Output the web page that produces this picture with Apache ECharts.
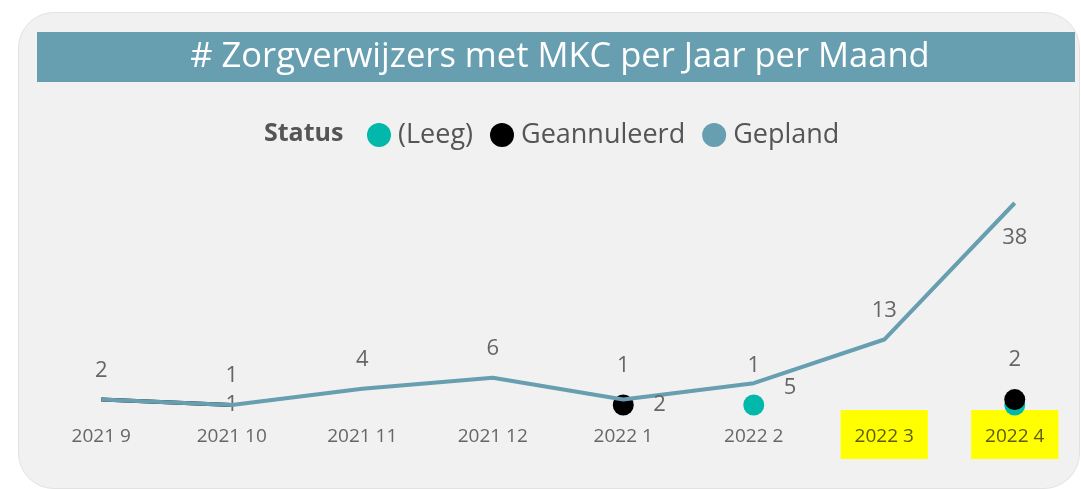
<!DOCTYPE html>
<html>
<head>
<meta charset="utf-8">
<script src="https://cdn.jsdelivr.net/npm/echarts@6/dist/echarts.min.js"></script>
<style>
  html, body { margin: 0; padding: 0; background: #ffffff; }
  #card {
    position: absolute; left: 18px; top: 12px; width: 1060px; height: 475px;
    background: #f1f1f1; border: 1px solid #e2e2e2; border-radius: 36px;
  }
  #chart { position: absolute; left: 0; top: 0; width: 1081px; height: 489px; }
</style>
</head>
<body>
<div id="card"></div>
<div id="chart"></div>
<script>
  var months = ['2021 9', '2021 10', '2021 11', '2021 12', '2022 1', '2022 2', '2022 3', '2022 4'];
  var leeg = [null, null, null, null, null, 1, null, 1];
  var geannuleerd = [2, 1, null, null, 1, null, null, 2];
  var gepland = [2, 1, 4, 6, 2, 5, 13, 38];
  var highlighted = ['2022 3', '2022 4'];

  var dom = document.getElementById("chart");
  var myChart = echarts.init(dom);

  // labels placed like power bi did (some hidden because they overlap)
  var labelPos = {
      leeg: ['top', 'top', 'top', 'top', 'top', 'top', 'top', 'none'],
      geannuleerd: ['none', 'inside', 'top', 'top', 'top', 'top', 'top', 'top'],
      gepland: ['top', 'top', 'top', 'top', 'right', 'right', 'top', 'bottom']
  };

  function isolated(arr, i) {
      return arr[i] != null && arr[i - 1] == null && arr[i + 1] == null;
  }

  function buildData(arr, pos) {
      return arr.map(function (v, i) {
          var p = pos[i];
          return {
              value: v,
              symbolSize: isolated(arr, i) ? 21 : 0,
              label: {
                  show: p !== 'none',
                  position: p === 'none' ? 'top' : p,
                  distance: p === 'right' ? 30 : (p === 'bottom' ? 24 : 18),
                  offset: p === 'right' ? [0, 5] : [0, 0]
              }
          };
      });
  }

  var labelStyle = {
      color: '#666666',
      fontSize: 22,
      fontFamily: 'Open Sans'
  };

  option = {
      animation: false,
      textStyle: { fontFamily: 'Open Sans' },
      graphic: [
          {
              type: 'rect',
              shape: { x: 37, y: 32, width: 1038, height: 50 },
              style: { fill: '#679fb0' },
              z: 0
          },
          {
              type: 'text',
              x: 560,
              y: 57,
              style: {
                  text: '# Zorgverwijzers met MKC per Jaar per Maand',
                  fill: '#ffffff',
                  font: '34.5px "Open Sans"',
                  align: 'center',
                  verticalAlign: 'middle'
              }
          },
          {
              type: 'text',
              x: 264,
              y: 134,
              style: {
                  text: 'Status',
                  fill: '#555555',
                  font: 'bold 25px "Open Sans"',
                  verticalAlign: 'middle'
              }
          }
      ],
      legend: {
          left: 367,
          top: 120,
          padding: 0,
          icon: 'circle',
          itemWidth: 24,
          itemHeight: 24,
          itemGap: 17,
          textStyle: { color: '#555555', fontSize: 27, lineHeight: 30, padding: [0, 0, 0, 2] },
          data: ['(Leeg)', 'Geannuleerd', 'Gepland']
      },
      grid: {
          left: 36,
          right: 1,
          top: 203,
          bottom: 78.5
      },
      xAxis: {
          type: 'category',
          data: months,
          boundaryGap: true,
          axisLine: { show: false },
          axisTick: { show: false },
          axisLabel: {
              margin: 14,
              formatter: function (v) {
                  return highlighted.indexOf(v) >= 0 ? '{hl|' + v + '}' : '{n|' + v + '}';
              },
              rich: {
                  n: {
                      color: '#666666',
                      fontSize: 19,
                      lineHeight: 20,
                      padding: [17, 12, 13, 12]
                  },
                  hl: {
                      backgroundColor: '#ffff00',
                      color: '#5c5c10',
                      fontSize: 19,
                      lineHeight: 20,
                      padding: [17, 14, 13, 14]
                  }
              }
          }
      },
      yAxis: {
          type: 'value',
          min: 0,
          max: 38,
          show: false
      },
      series: [
          {
              name: 'Gepland',
              type: 'line',
              z: 3,
              color: '#679fb0',
              symbol: 'circle',
              lineStyle: { width: 4, color: '#679fb0' },
              label: labelStyle,
              data: buildData(gepland, labelPos.gepland)
          },
          {
              name: 'Geannuleerd',
              type: 'line',
              z: 2,
              color: '#000000',
              symbol: 'circle',
              lineStyle: { width: 4, color: '#000000' },
              label: labelStyle,
              data: buildData(geannuleerd, labelPos.geannuleerd)
          },
          {
              name: '(Leeg)',
              type: 'line',
              z: 1,
              color: '#01b8aa',
              symbol: 'circle',
              lineStyle: { width: 4, color: '#01b8aa' },
              label: labelStyle,
              data: buildData(leeg, labelPos.leeg)
          }
      ]
  };
  myChart.setOption(option, true);
</script>
</body>
</html>
